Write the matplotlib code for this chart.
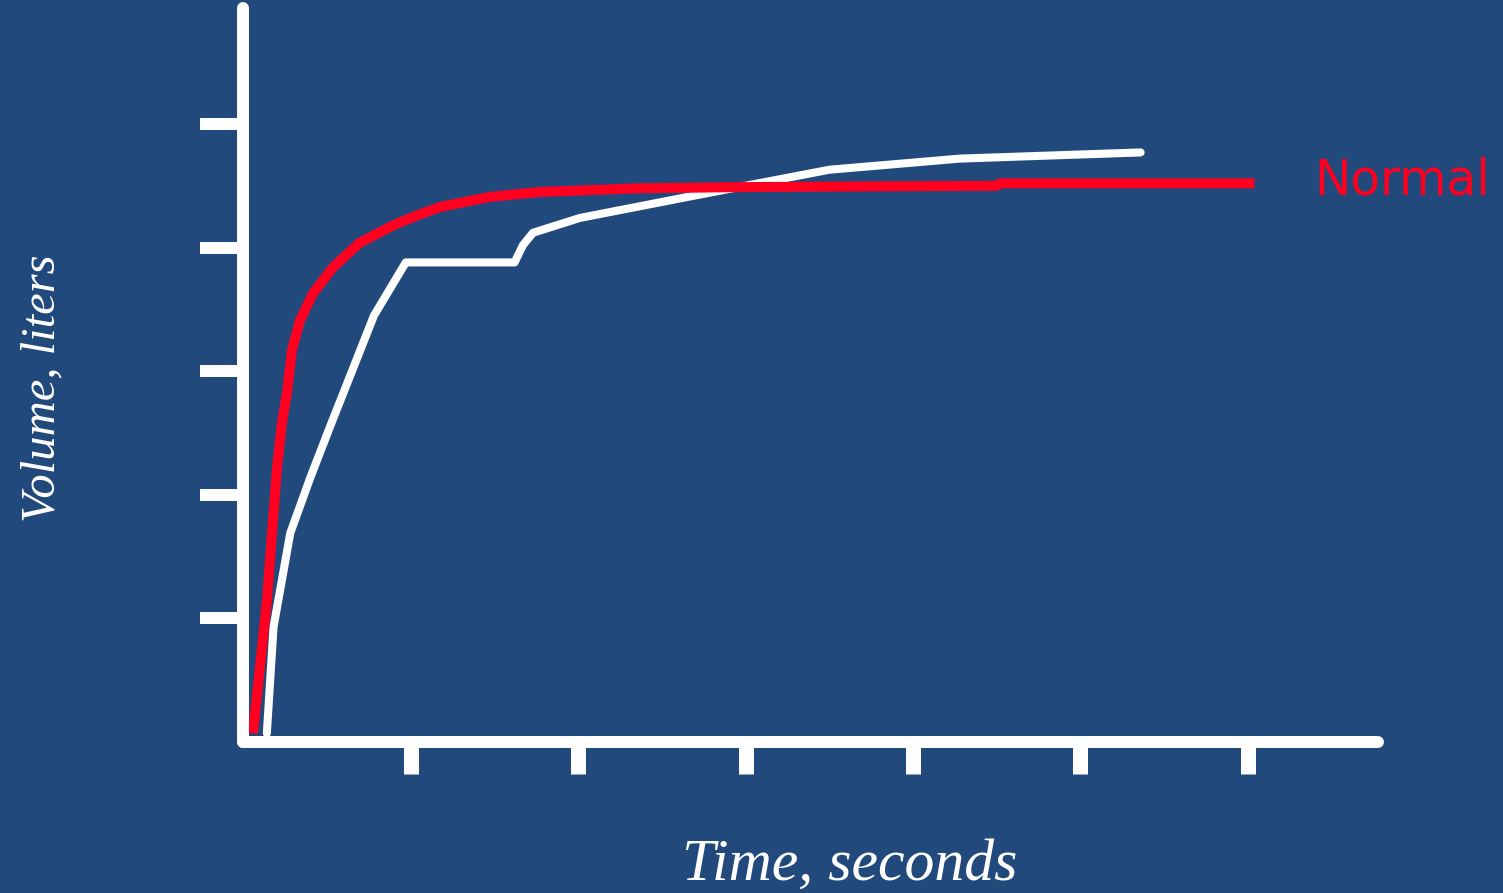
import matplotlib.pyplot as plt

# normal curve (red), seconds / liters
normal_t = [0.057, 0.099, 0.141, 0.171, 0.201, 0.230, 0.260, 0.290, 0.338, 0.416, 0.535, 0.696,
            0.894, 1.037, 1.18, 1.47, 1.77, 2.37, 3.03, 4.50, 4.52, 6.04]
normal_v = [0.07, 0.61, 1.15, 1.69, 2.22, 2.58, 2.82, 3.17, 3.41, 3.63, 3.84, 4.04,
            4.18, 4.26, 4.33, 4.41, 4.45, 4.48, 4.49, 4.50, 4.52, 4.52]

# other curve (white)
other_t = [0.14, 0.18, 0.28, 0.40, 0.52, 0.78, 0.97, 1.62, 1.67, 1.73, 2.01, 2.73, 3.50, 4.28, 5.36]
other_v = [0.07, 0.93, 1.69, 2.14, 2.56, 3.45, 3.88, 3.88, 4.02, 4.12, 4.24, 4.43, 4.63, 4.72, 4.77]

xticks = [1, 2, 3, 4, 5, 6]
yticks = [1, 2, 3, 4, 5]

bg = '#21497b'
red = '#ff0020'

fig = plt.figure(figsize=(15.03, 8.93), dpi=100, facecolor=bg)
ax = fig.add_axes([243.4 / 1503, 151 / 893, 6.8 * 167.4 / 1503, 5.95 * 123.6 / 893])
ax.set_facecolor(bg)
ax.set_xlim(0, 6.8)
ax.set_ylim(0, 5.95)

ax.plot(other_t, other_v, color='white', lw=5.8, solid_capstyle='round',
        solid_joinstyle='round', zorder=3)
ax.plot(normal_t, normal_v, color=red, lw=7.2, solid_capstyle='butt',
        solid_joinstyle='round', zorder=4)

for s in ['top', 'right']:
    ax.spines[s].set_visible(False)
ax.spines['left'].set_bounds(0, 5.94)
ax.spines['bottom'].set_bounds(0, 6.78)
for s in ['left', 'bottom']:
    ax.spines[s].set_color('white')
    ax.spines[s].set_linewidth(8.6)
    ax.spines[s].set_capstyle('round')
    ax.spines[s].set_zorder(5)

ax.set_xticks(xticks)
ax.set_yticks(yticks)
ax.set_xticklabels([])
ax.set_yticklabels([])
ax.tick_params(axis='x', direction='out', length=23, width=10.8, color='white')
ax.tick_params(axis='y', direction='out', length=31, width=8.6, color='white')

ax.text(6.92, 4.54, 'Normal', color=red, fontsize=35, family='DejaVu Sans',
        ha='center', va='center')

fig.text(0.565, 0.031, 'Time, seconds', color='white', fontsize=43,
         family='Liberation Serif', style='italic', ha='center', va='center')
fig.text(0.028, 0.565, 'Volume, liters', color='white', fontsize=35,
         family='Liberation Serif', style='italic', rotation=90,
         ha='center', va='center')

fig.savefig('out.png', dpi=100, facecolor=bg)
